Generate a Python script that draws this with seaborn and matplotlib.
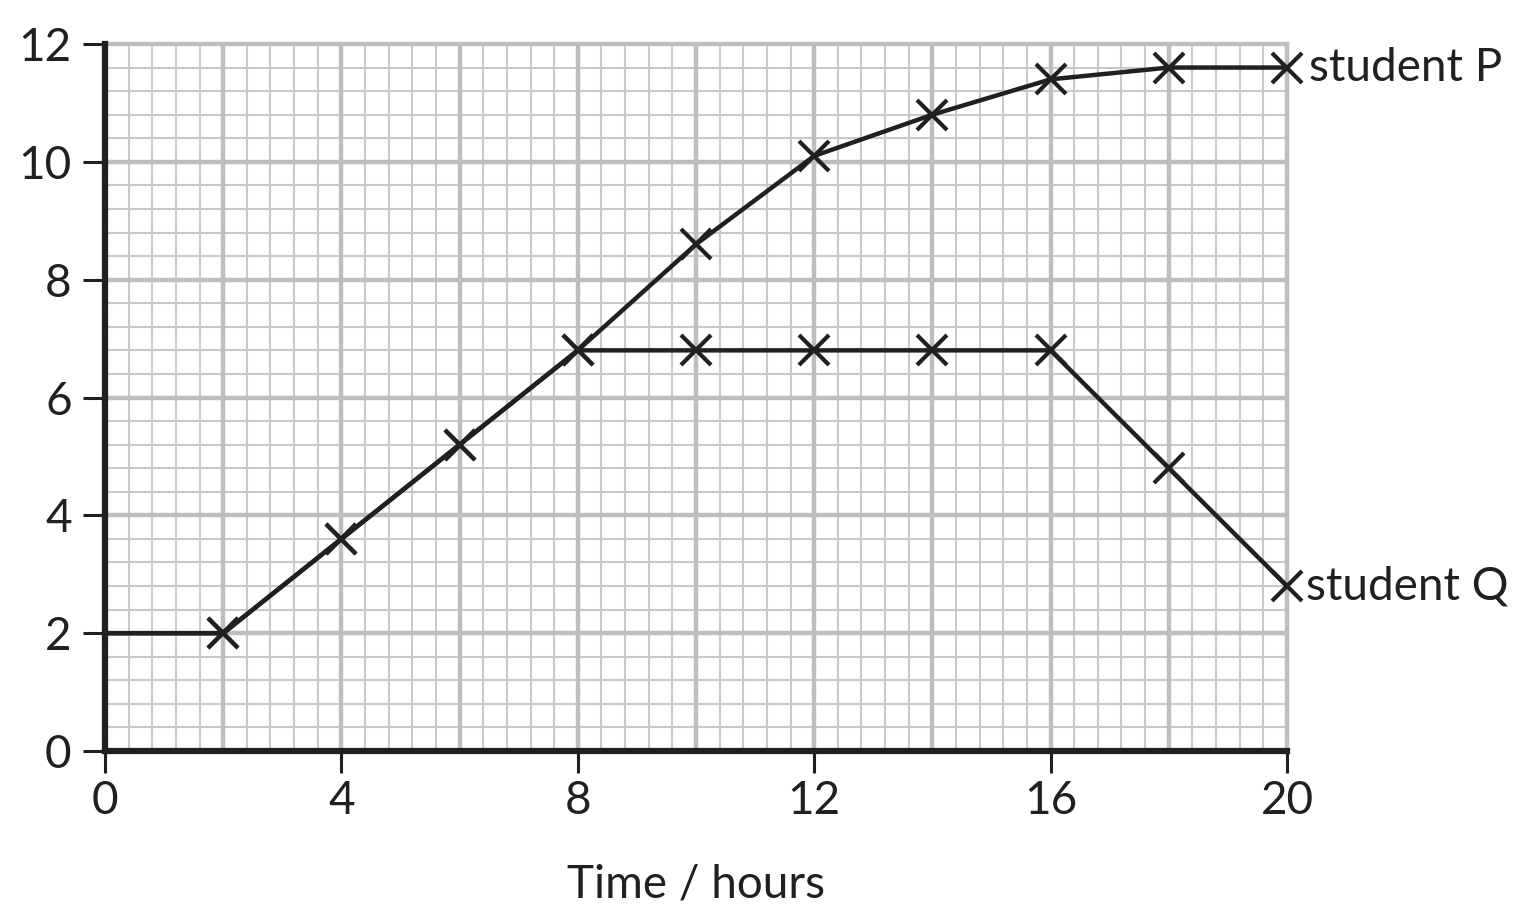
import pandas as pd
import matplotlib
matplotlib.use("Agg")
import matplotlib.pyplot as plt
from matplotlib.ticker import MultipleLocator
import seaborn as sns

# values
time_h = [0, 2, 4, 6, 8, 10, 12, 14, 16, 18, 20]
student_p = [2, 2, 3.6, 5.2, 6.8, 8.6, 10.1, 10.8, 11.4, 11.6, 11.6]
student_q = [2, 2, 3.6, 5.2, 6.8, 6.8, 6.8, 6.8, 6.8, 4.8, 2.8]
series_names = ["student P", "student Q"]

df = pd.DataFrame({
    "time": time_h * 2,
    "value": student_p + student_q,
    "student": [series_names[0]] * len(time_h) + [series_names[1]] * len(time_h),
})
# the first point (t = 0) is only the start of the line, no cross drawn
df_marks = df[df["time"] > 0]

sns.set_style("white")
plt.rcParams["font.family"] = ["Lato", "DejaVu Sans"]

fig = plt.figure(figsize=(15.31, 9.24), dpi=100)
ax = fig.add_axes([0.0686, 0.1872, 0.772, 0.7652])

sns.lineplot(data=df, x="time", y="value", units="student", estimator=None,
             color="#231f20", linewidth=3.2, ax=ax, zorder=3, legend=False)
for name, grp in df_marks.groupby("student"):
    ax.plot(grp["time"], grp["value"], linestyle="", marker="x", markersize=22,
            markeredgewidth=3, color="#231f20", zorder=4, clip_on=False)

ax.set_xlim(0, 20)
ax.set_ylim(0, 12)
ax.xaxis.set_major_locator(MultipleLocator(4))
ax.yaxis.set_major_locator(MultipleLocator(2))
ax.xaxis.set_minor_locator(MultipleLocator(0.4))
ax.yaxis.set_minor_locator(MultipleLocator(0.4))

# graph paper: fine grid every 0.4, heavier lines every 2
ax.grid(which="minor", color="#c8c9cb", linewidth=1.5, zorder=0)
for v in range(2, 20, 2):
    ax.axvline(v, color="#bcbec0", linewidth=3.2, zorder=1)
for v in range(2, 12, 2):
    ax.axhline(v, color="#bcbec0", linewidth=3.2, zorder=1)
ax.set_axisbelow(True)

for side in ["top", "right"]:
    ax.spines[side].set_color("#bcbec0")
    ax.spines[side].set_linewidth(3.2)
for side in ["left", "bottom"]:
    ax.spines[side].set_color("#231f20")
    ax.spines[side].set_linewidth(4.5)
    ax.spines[side].set_zorder(5)

ax.tick_params(which="major", direction="out", length=16, width=2.2,
               color="#231f20", labelsize=33, labelcolor="#231f20")
ax.tick_params(axis="y", pad=8)
ax.tick_params(axis="x", pad=5)
ax.tick_params(which="minor", length=0)
ax.tick_params(top=False, right=False, left=True, bottom=True)

ax.set_xlabel("Time / hours", fontsize=33, color="#231f20", labelpad=30)
ax.set_ylabel("")

ax.annotate(series_names[0], xy=(time_h[-1], student_p[-1]), xytext=(16, 0),
            textcoords="offset points", ha="left", va="center",
            fontsize=33, color="#231f20", annotation_clip=False)
ax.annotate(series_names[1], xy=(time_h[-1], student_q[-1]), xytext=(14, 0),
            textcoords="offset points", ha="left", va="center",
            fontsize=33, color="#231f20", annotation_clip=False)

fig.savefig("out.png", dpi=100)
